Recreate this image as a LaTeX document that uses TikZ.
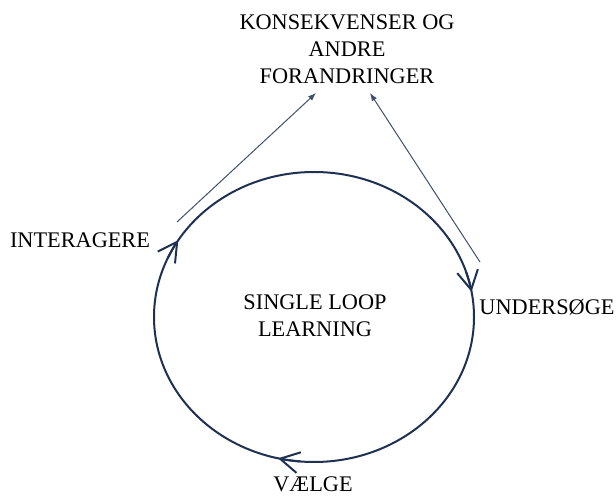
\documentclass[tikz,border=0pt]{standalone}
\usepackage{fontspec}
\setmainfont{Liberation Serif}
\usetikzlibrary{arrows.meta}
\definecolor{navy}{HTML}{1E3152}
\begin{document}
\begin{tikzpicture}[x=1pt,y=1pt,
  lbl/.style={font=\fontsize{22.3}{27}\selectfont, inner sep=0pt, align=center, text=black},
  ring/.style={draw=navy, line width=2pt},
  barb/.style={draw=navy, line width=2pt, line cap=round, -{Straight Barb[length=19pt,width=21pt]}},
  link/.style={draw=navy!85, line width=1pt, -{Latex[length=8pt,width=6pt]}}]
\useasboundingbox (0,0) rectangle (616,498);

% the learning loop
\coordinate (c) at (314,181);
\draw[ring] (c) ellipse [x radius=160, y radius=145];
\draw[barb] (c) ++(156:160 and 145) arc[start angle=156, end angle=148, x radius=160, y radius=145];
\draw[barb] (c) ++(18:160 and 145) arc[start angle=18, end angle=10, x radius=160, y radius=145];
\draw[barb] (c) ++(265:160 and 145) arc[start angle=265, end angle=257, x radius=160, y radius=145];

% labels
\node[lbl] (loop) at (315,182) {SINGLE LOOP\\LEARNING};
\node[lbl] (result) at (347,449) {KONSEKVENSER OG\\ANDRE\\FORANDRINGER};
\node[lbl, anchor=base] (act) at (80,250) {INTERAGERE};
\node[lbl, anchor=base] (explore) at (547,183) {UNDERSØGE};
\node[lbl, anchor=base] (choose) at (313,6) {VÆLGE};

% links to the consequences
\coordinate (l0) at (177,276);
\coordinate (l1) at (316,405);
\coordinate (r0) at (480,236);
\coordinate (r1) at (370,405);
\draw[link] (l0) -- (l1);
\draw[link] (r0) -- (r1);
\end{tikzpicture}
\end{document}
